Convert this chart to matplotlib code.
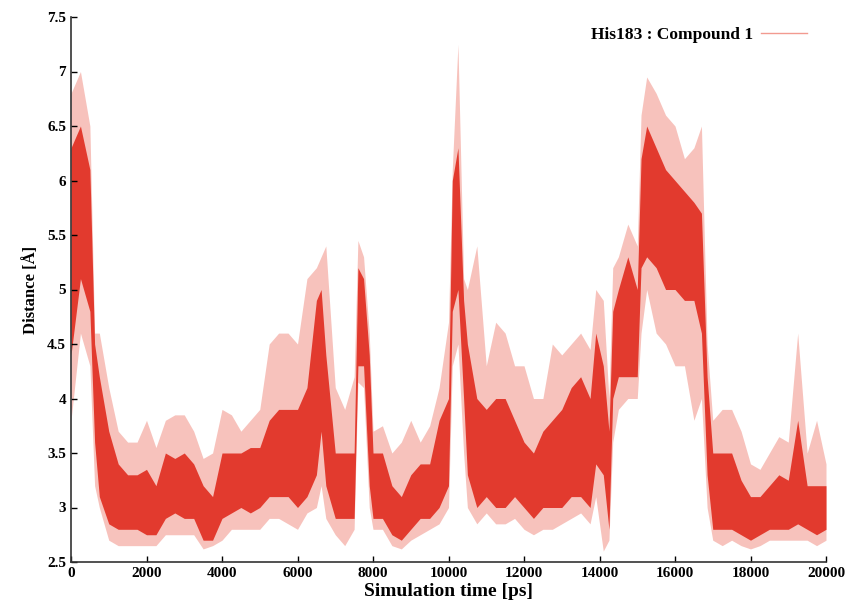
import matplotlib
matplotlib.use("Agg")
import matplotlib.pyplot as plt

# envelope of the trajectory (time in ps, distance in Angstrom)
t = [0, 250, 500, 625, 750, 1000, 1250, 1500, 1750, 2000, 2250, 2500, 2750, 3000,
     3250, 3500, 3750, 4000, 4250, 4500, 4750, 5000, 5250, 5500, 5750, 6000, 6250,
     6500, 6625, 6750, 7000, 7250, 7500, 7600, 7750, 7900, 8000, 8250, 8500, 8750,
     9000, 9250, 9500, 9750, 10000, 10100, 10250, 10400, 10500, 10750, 11000, 11250,
     11500, 11750, 12000, 12250, 12500, 12750, 13000, 13250, 13500, 13750, 13900,
     14100, 14250, 14350, 14500, 14750, 15000, 15100, 15250, 15500, 15750, 16000,
     16250, 16500, 16700, 16850, 17000, 17250, 17500, 17750, 18000, 18250, 18500,
     18750, 19000, 19250, 19500, 19750, 20000]
core_lo = [4.4, 5.1, 4.8, 3.6, 3.1, 2.85, 2.8, 2.8, 2.8, 2.75, 2.75, 2.9, 2.95, 2.9,
           2.9, 2.7, 2.7, 2.9, 2.95, 3.0, 2.95, 3.0, 3.1, 3.1, 3.1, 3.0, 3.1,
           3.3, 3.7, 3.2, 2.9, 2.9, 2.9, 4.3, 4.3, 3.2, 2.9, 2.9, 2.75, 2.7,
           2.8, 2.9, 2.9, 3.0, 3.2, 4.8, 5.0, 4.0, 3.3, 3.0, 3.1, 3.0,
           3.0, 3.1, 3.0, 2.9, 3.0, 3.0, 3.0, 3.1, 3.1, 3.0, 3.4,
           3.3, 2.8, 4.0, 4.2, 4.2, 4.2, 5.2, 5.3, 5.2, 5.0, 5.0,
           4.9, 4.9, 4.6, 3.3, 2.8, 2.8, 2.8, 2.75, 2.7, 2.75, 2.8,
           2.8, 2.8, 2.85, 2.8, 2.75, 2.8]
core_hi = [6.3, 6.5, 6.1, 4.5, 4.2, 3.7, 3.4, 3.3, 3.3, 3.35, 3.2, 3.5, 3.45, 3.5,
           3.4, 3.2, 3.1, 3.5, 3.5, 3.5, 3.55, 3.55, 3.8, 3.9, 3.9, 3.9, 4.1,
           4.9, 5.0, 4.4, 3.5, 3.5, 3.5, 5.2, 5.1, 4.4, 3.5, 3.5, 3.2, 3.1,
           3.3, 3.4, 3.4, 3.8, 4.0, 6.0, 6.3, 4.9, 4.5, 4.0, 3.9, 4.0,
           4.0, 3.8, 3.6, 3.5, 3.7, 3.8, 3.9, 4.1, 4.2, 4.0, 4.6,
           4.3, 3.7, 4.8, 5.0, 5.3, 5.0, 6.2, 6.5, 6.3, 6.1, 6.0,
           5.9, 5.8, 5.7, 4.2, 3.5, 3.5, 3.5, 3.25, 3.1, 3.1, 3.2,
           3.3, 3.25, 3.8, 3.2, 3.2, 3.2]
peak_hi = [6.8, 7.0, 6.5, 4.6, 4.6, 4.1, 3.7, 3.6, 3.6, 3.8, 3.55, 3.8, 3.85, 3.85,
           3.7, 3.45, 3.5, 3.9, 3.85, 3.7, 3.8, 3.9, 4.5, 4.6, 4.6, 4.5, 5.1,
           5.2, 5.3, 5.4, 4.1, 3.9, 4.2, 5.45, 5.3, 4.6, 3.7, 3.75, 3.5, 3.6,
           3.8, 3.6, 3.75, 4.1, 4.7, 6.1, 7.25, 5.1, 5.0, 5.4, 4.3, 4.7,
           4.6, 4.3, 4.3, 4.0, 4.0, 4.5, 4.4, 4.5, 4.6, 4.45, 5.0,
           4.9, 4.0, 5.2, 5.3, 5.6, 5.4, 6.6, 6.95, 6.8, 6.6, 6.5,
           6.2, 6.3, 6.5, 4.5, 3.8, 3.9, 3.9, 3.7, 3.4, 3.35, 3.5,
           3.65, 3.6, 4.6, 3.5, 3.8, 3.4]
peak_lo = [3.8, 4.6, 4.3, 3.2, 3.0, 2.7, 2.65, 2.65, 2.65, 2.65, 2.65, 2.75, 2.75, 2.75,
           2.75, 2.62, 2.65, 2.7, 2.8, 2.8, 2.8, 2.8, 2.9, 2.9, 2.85, 2.8, 2.95,
           3.0, 3.2, 2.9, 2.75, 2.65, 2.8, 4.15, 4.1, 3.0, 2.8, 2.8, 2.65, 2.62,
           2.7, 2.75, 2.8, 2.85, 3.0, 4.3, 4.5, 3.5, 3.0, 2.85, 2.95, 2.85,
           2.85, 2.9, 2.8, 2.75, 2.8, 2.8, 2.85, 2.9, 2.95, 2.85, 3.1,
           2.6, 2.7, 3.6, 3.9, 4.0, 4.0, 4.6, 5.0, 4.6, 4.5, 4.3,
           4.3, 3.8, 4.0, 3.0, 2.7, 2.65, 2.7, 2.65, 2.62, 2.65, 2.7,
           2.7, 2.7, 2.7, 2.7, 2.65, 2.7]

red = "#e23a2e"
light = "#f29a90"

plt.rcParams["font.family"] = ["Liberation Serif", "DejaVu Serif"]
plt.rcParams["font.weight"] = "bold"

fig = plt.figure(figsize=(8.46, 6.11), dpi=100)
ax = fig.add_axes([71 / 846, 49 / 611, 755 / 846, 545 / 611])

# light outer band for the spikes, solid band for the dense part of the trace
ax.fill_between(t, peak_lo, peak_hi, color=light, alpha=0.6, linewidth=0)
ax.fill_between(t, core_lo, core_hi, color=red, linewidth=0)
ax.plot([], [], color=light, linewidth=1, label="His183 : Compound 1")

ax.set_xlim(0, 20000)
ax.set_ylim(2.5, 7.5)
ax.set_xticks(range(0, 20001, 2000))
ax.set_yticks([2.5, 3, 3.5, 4, 4.5, 5, 5.5, 6, 6.5, 7, 7.5])
ax.set_yticklabels(["2.5", "3", "3.5", "4", "4.5", "5", "5.5", "6", "6.5", "7", "7.5"])
ax.tick_params(direction="in", length=4, width=1, labelsize=11)
ax.spines["top"].set_visible(False)
ax.spines["right"].set_visible(False)
for s in ("left", "bottom"):
    ax.spines[s].set_linewidth(1.2)
    ax.spines[s].set_color("#333333")

ax.set_xlabel("Simulation time [ps]", fontsize=14, fontweight="bold", labelpad=2)
ax.set_ylabel("Distance [Å]", fontsize=12, fontweight="bold", labelpad=6)

ax.legend(loc="upper right", frameon=False, markerfirst=False, fontsize=12.5,
          handlelength=2.6, handletextpad=0.5, bbox_to_anchor=(0.995, 1.01))

fig.savefig("out.png", dpi=100)
